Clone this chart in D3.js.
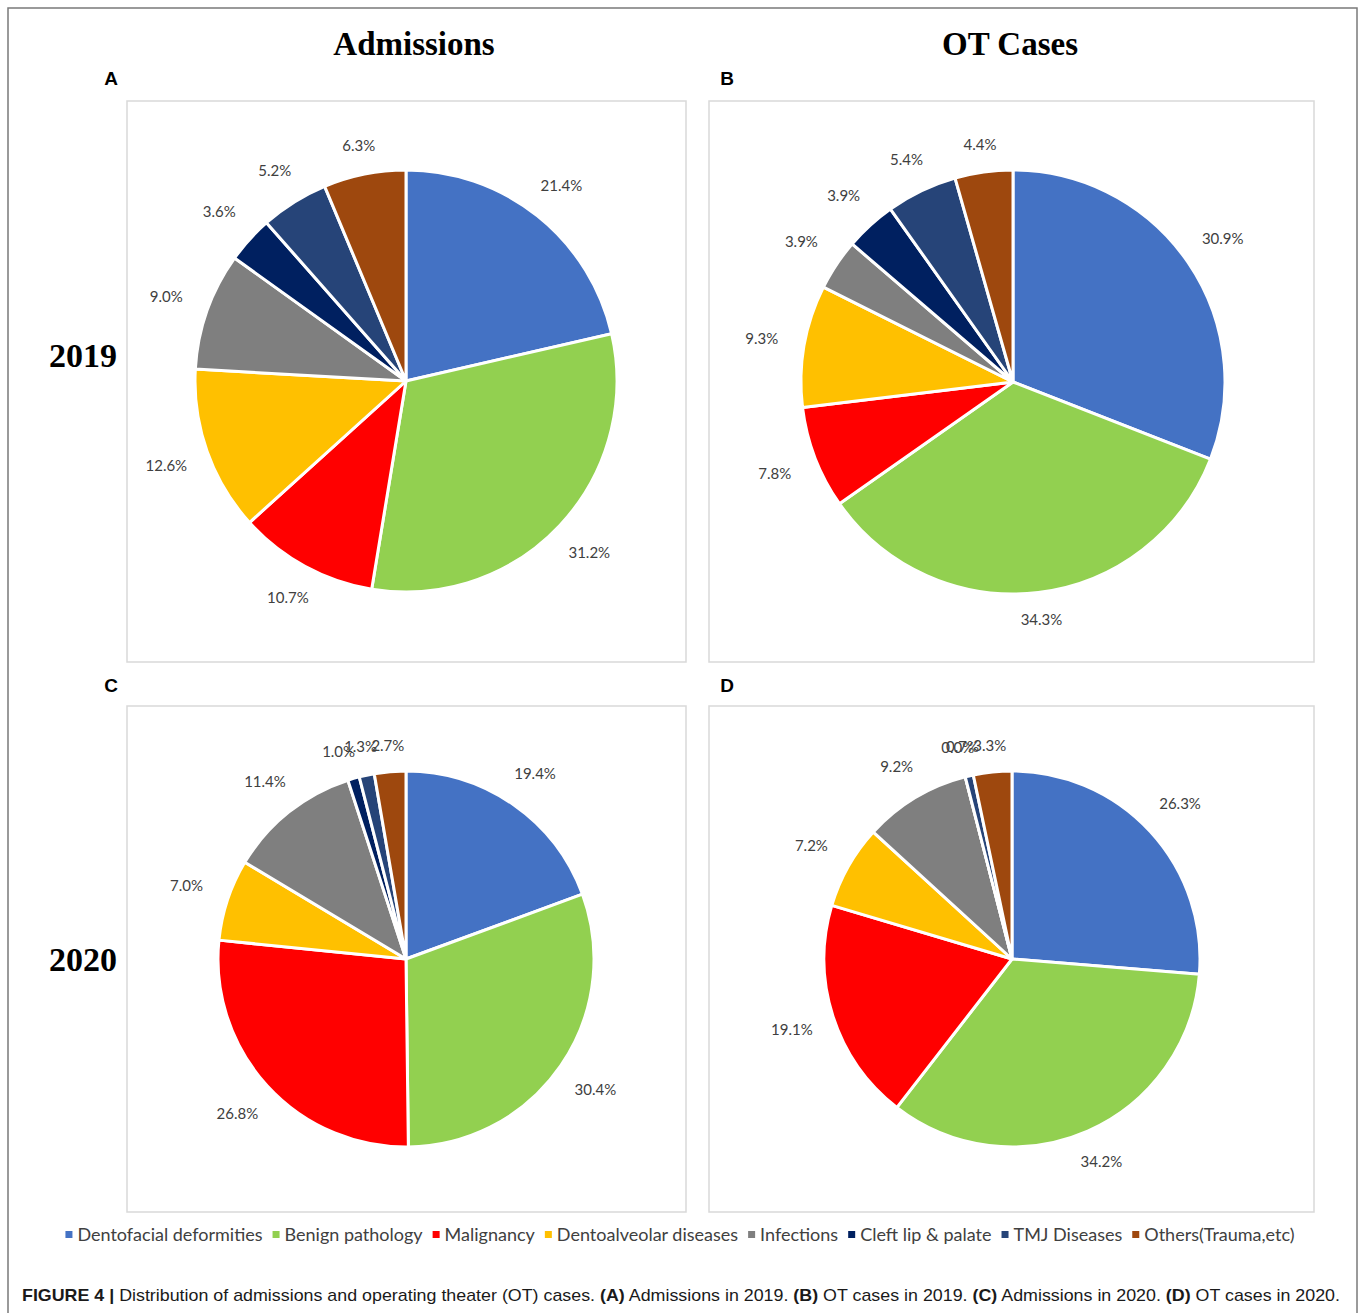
<!DOCTYPE html>
<html><head><meta charset="utf-8">
<script src="https://cdn.jsdelivr.net/npm/d3@7"></script>
<style>body{margin:0;background:#fff}</style>
</head><body>
<svg id="c" width="1360" height="1313"></svg>
<script>
const categories = ["Dentofacial deformities","Benign pathology","Malignancy","Dentoalveolar diseases","Infections","Cleft lip & palate","TMJ Diseases","Others(Trauma,etc)"];
const colors = ["#4472C4","#92D050","#FF0000","#FFC000","#7F7F7F","#002060","#264478","#9E480E"];
const admissions2019 = [21.4,31.2,10.7,12.6,9.0,3.6,5.2,6.3];
const ot2019 = [30.9,34.3,7.8,9.3,3.9,3.9,5.4,4.4];
const admissions2020 = [19.4,30.4,26.8,7.0,11.4,1.0,1.3,2.7];
const ot2020 = [26.3,34.2,19.1,7.2,9.2,0.0,0.7,3.3];
const columnTitles = ["Admissions","OT Cases"];
const rowTitles = ["2019","2020"];
const panelLetters = ["A","B","C","D"];

const svg = d3.select("#c");
svg.append("rect").attr("x",8).attr("y",8).attr("width",1349).attr("height",1320)
  .attr("fill","none").attr("stroke","#7a7a7a").attr("stroke-width",1.5);

const panels = [
  {data:admissions2019, box:[127,101,559,561], cx:406, cy:381, r:211, letter:[111,85]},
  {data:ot2019, box:[709,101,605,561], cx:1013, cy:382, r:212, letter:[727,85]},
  {data:admissions2020, box:[127,706,559,506], cx:406, cy:959, r:188, letter:[111,692]},
  {data:ot2020, box:[709,706,605,506], cx:1012, cy:959, r:188, letter:[727,692]}
];

const pie = d3.pie().sort(null).value(d=>d);
panels.forEach((p,i)=>{
  svg.append("rect").attr("x",p.box[0]).attr("y",p.box[1]).attr("width",p.box[2]).attr("height",p.box[3])
    .attr("fill","#fff").attr("stroke","#d9d9d9").attr("stroke-width",1.5);
  svg.append("text").attr("x",p.letter[0]).attr("y",p.letter[1]).attr("text-anchor","middle")
    .attr("font-family","Liberation Sans, Arial, sans-serif").attr("font-weight","bold").attr("font-size",19)
    .text(panelLetters[i]);
  const g = svg.append("g").attr("transform",`translate(${p.cx},${p.cy})`);
  const arcs = pie(p.data);
  const arc = d3.arc().innerRadius(0).outerRadius(p.r);
  g.selectAll("path").data(arcs).join("path").attr("d",arc)
    .attr("fill",(d,j)=>colors[j]).attr("stroke","#fff").attr("stroke-width",3).attr("stroke-linejoin","round");
  const labs = arcs.map(d=>{
    const a = (d.startAngle+d.endAngle)/2;
    const s = Math.sin(a), c = Math.cos(a);
    const half = Math.abs(s)*26 + Math.abs(c)*8;
    const dist = p.r + 16 + half;
    return {x:s*dist, y:-c*dist, v:d.data};
  });
  // nudge crowded small labels near the top leftwards (as the reference's layout does)
  for (let k = labs.length-2; k >= 0; k--) {
    const a = labs[k], b = labs[k+1];
    if (a.y < -p.r && b.y < -p.r && a.v > 0 && a.x > b.x - 22) { a.x = b.x - 22; a.y += 3; }
  }
  labs.forEach(l=>{
    g.append("text").attr("x",l.x).attr("y",l.y).attr("dy","0.35em").attr("text-anchor","middle")
      .attr("font-family","Lato, Carlito, sans-serif").attr("font-size",15).attr("fill","#404040")
      .text(d3.format(".1f")(l.v)+"%");
  });
});

[[414,55],[1010,55]].forEach((pos,i)=>{
  svg.append("text").attr("x",pos[0]).attr("y",pos[1]).attr("text-anchor","middle")
    .attr("font-family","Liberation Serif, Times New Roman, serif").attr("font-weight","bold").attr("font-size",33)
    .text(columnTitles[i]);
});
[[83,367],[83,971]].forEach((pos,i)=>{
  svg.append("text").attr("x",pos[0]).attr("y",pos[1]).attr("text-anchor","middle")
    .attr("font-family","Liberation Serif, Times New Roman, serif").attr("font-weight","bold").attr("font-size",34)
    .text(rowTitles[i]);
});

// legend
const lg = svg.append("g");
let x = 0;
categories.forEach((cat,i)=>{
  lg.append("rect").attr("x",x).attr("y",-4).attr("width",7).attr("height",7).attr("fill",colors[i]);
  const t = lg.append("text").attr("x",x+12).attr("y",0).attr("dy","0.35em")
    .attr("font-family","Lato, Carlito, sans-serif").attr("font-size",18).attr("fill","#404040").text(cat);
  x += 12 + t.node().getComputedTextLength() + 10;
});
const lw = x - 10;
lg.attr("transform",`translate(${680 - lw/2},1235)`);

// caption
const cap = svg.append("text").attr("x",22).attr("y",1301)
  .attr("font-family","Liberation Sans, Arial, sans-serif").attr("font-size",17).attr("fill","#1a1a1a")
  .attr("textLength",1318).attr("lengthAdjust","spacingAndGlyphs");
const parts = [["FIGURE 4 | ",true],["Distribution of admissions and operating theater (OT) cases. ",false],
 ["(A)",true],[" Admissions in 2019. ",false],["(B)",true],[" OT cases in 2019. ",false],
 ["(C)",true],[" Admissions in 2020. ",false],["(D)",true],[" OT cases in 2020.",false]];
parts.forEach(([t,b])=>cap.append("tspan").attr("font-weight",b?"bold":"normal").text(t));
</script>
</body></html>
